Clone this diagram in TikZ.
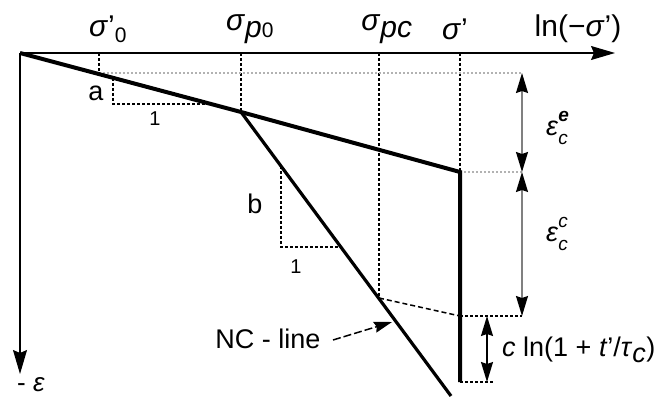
\documentclass[tikz,border=0pt]{standalone}
\usepackage{fontspec}
\setmainfont{Liberation Sans}
\usetikzlibrary{arrows.meta}
\newcommand\mysupsub[2]{\rlap{\raisebox{0.52em}{\fontsize{19}{19}\selectfont #1}}\raisebox{-0.36em}{\fontsize{19}{19}\selectfont #2}}
\begin{document}
\begin{tikzpicture}[x=1pt,y=-1pt,
  axis/.style={line width=1.3pt,-{Stealth[length=24pt,width=14pt,inset=3pt]}},
  thickln/.style={line width=4pt,line join=miter,line cap=butt},
  ncln/.style={line width=3.2pt},
  dashln/.style={line width=1.2pt,dash pattern=on 3pt off 2pt},
  dotln/.style={line width=1.4pt,gray!60,dash pattern=on 2pt off 2pt},
  dimarr/.style={line width=1.4pt,gray,{Stealth[length=20pt,width=12pt,inset=2pt,black]}-{Stealth[length=20pt,width=12pt,inset=2pt,black]}},
  dimarrk/.style={line width=1.4pt,{Stealth[length=20pt,width=12pt,inset=2pt]}-{Stealth[length=20pt,width=12pt,inset=2pt]}},
  lbl/.style={inner sep=0pt,font=\fontsize{27}{30}\selectfont},
  toplbl/.style={inner sep=0pt,font=\fontsize{30}{33}\selectfont},
  smlbl/.style={inner sep=0pt,font=\fontsize{20}{24}\selectfont}]
\useasboundingbox (0,0) rectangle (669,398);
% coordinates
\coordinate (O) at (20,53);
\coordinate (X) at (615,53);
\coordinate (Y) at (20,374);
\coordinate (K) at (241,112);
\coordinate (E) at (460,172);
\coordinate (EB) at (460,382);
\coordinate (N) at (451,396);
\coordinate (P) at (379,298);
\coordinate (Q) at (460,316);
\coordinate (S0) at (99,53);
\coordinate (S0b) at (99,73);
\coordinate (Sp) at (241,53);
\coordinate (Sc) at (379,53);
\coordinate (Ss) at (460,53);
\coordinate (D1) at (522,73);
\coordinate (D2) at (522,172);
\coordinate (D3) at (522,316);
\coordinate (C1) at (487,316);
\coordinate (C2) at (487,382);
\coordinate (C3) at (494,382);
\coordinate (A1) at (113,78);
\coordinate (A2) at (113,104);
\coordinate (A3) at (211,104);
\coordinate (B1) at (281,166);
\coordinate (B2) at (281,247);
\coordinate (B3) at (341,247);
\coordinate (NCt) at (333,340);
\coordinate (NCh) at (392,322);
% axes
\draw[axis] (O) -- (X);
\draw[axis] (O) -- (Y);
% dashed verticals
\draw[dashln] (S0) -- (S0b);
\draw[dashln] (Sp) -- (K);
\draw[dashln] (Sc) -- (P);
\draw[dashln] (Ss) -- (E);
% dotted horizontals
\draw[dotln] (S0b) -- (D1);
\draw[dotln] (E) -- (D2);
% slope triangles
\draw[dashln] (A1) -- (A2) -- (A3);
\draw[dashln] (B1) -- (B2) -- (B3);
% creep curve and levels
\draw[line width=1.5pt,dash pattern=on 5pt off 3pt] (P) -- (Q);
\draw[dashln] (Q) -- (D3);
\draw[dashln] (EB) -- (C3);
% main lines
\draw[thickln] (O) -- (K) -- (E) -- (EB);
\draw[ncln] (K) -- (N);
% dimension arrows
\draw[dimarr] (D1) -- (D2);
\draw[dimarr] (D2) -- (D3);
\draw[dimarrk] (C1) -- (C2);
\draw[line width=1.5pt,dash pattern=on 8pt off 3pt,-{Stealth[length=18pt,width=11pt,inset=2pt]}] (NCt) -- (NCh);
% labels
\node[toplbl] (l0) at (108,29) {\textit{σ}'$_{\mathrm{0}}$};
\node[toplbl] (lp0) at (250,29) {\textit{σ}$_{\textit{p}\mathrm{0}}$};
\node[toplbl] (lpc) at (387,29) {\textit{σ}$_{\textit{pc}}$};
\node[toplbl] (ls) at (455,29) {\textit{σ}'};
\node[toplbl] (lln) at (578,29) {ln(−\textit{σ}')};
\node[lbl] (la) at (96,93) {a};
\node[smlbl] (l1a) at (155,119) {1};
\node[lbl] (lb) at (255,204) {b};
\node[smlbl] (l1b) at (296,267) {1};
\node[lbl] (lnc) at (268,339) {NC - line};
\node[lbl] (lee) at (557,128) {\textit{ε}\mysupsub{\textbf{\textit{e}}}{\textit{c}}};
\node[lbl] (lec) at (557,234) {\textit{ε}\mysupsub{\textit{c}}{\textit{c}}};
\node[lbl,anchor=west] (lcr) at (502,350) {\textit{c} ln(1 + \textit{t}'/\textit{τ}$_{\textit{c}}$)};
\node[inner sep=0pt,font=\fontsize{26}{28}\selectfont] (leps) at (31,385) {- \textit{ε}};
\end{tikzpicture}
\end{document}
